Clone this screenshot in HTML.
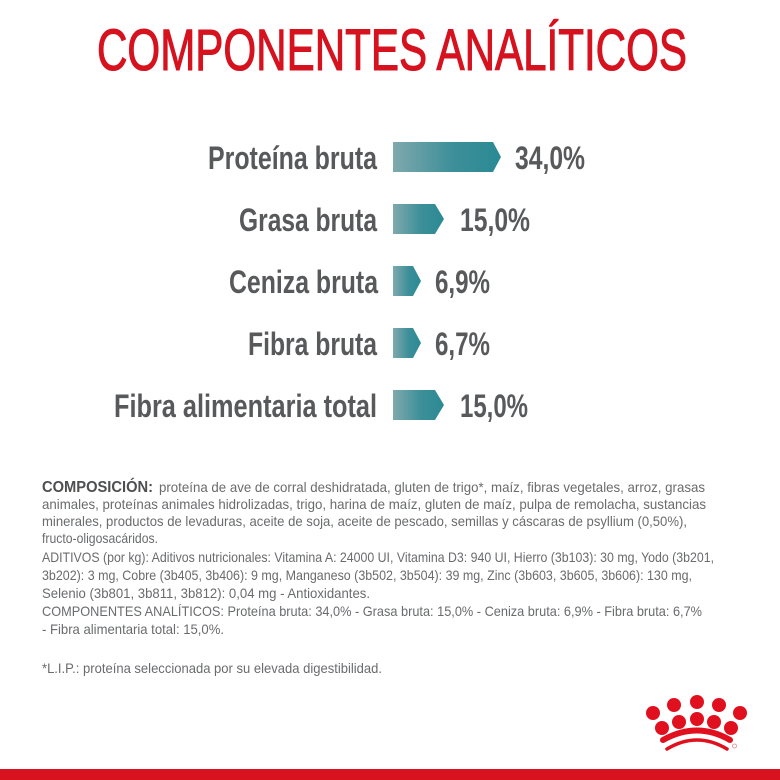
<!DOCTYPE html>
<html><head><meta charset="utf-8"><style>
html,body{margin:0;padding:0;background:#fff;}
svg{display:block;}
.t{font-family:"Liberation Sans",sans-serif;}
</style></head><body>
<svg width="780" height="780" viewBox="0 0 780 780" xmlns="http://www.w3.org/2000/svg">
<defs>
<linearGradient id="g" x1="0" y1="0" x2="1" y2="0">
<stop offset="0" stop-color="#7fa9ad"/>
<stop offset="0.55" stop-color="#3d8f99"/>
<stop offset="1" stop-color="#2a8a95"/>
</linearGradient>
</defs>
<rect width="780" height="780" fill="#fff"/>
<text class="t" x="97" y="70" font-size="58" fill="#d6121f" stroke="#d6121f" stroke-width="1.1" textLength="590" lengthAdjust="spacingAndGlyphs">COMPONENTES ANALÍTICOS</text>

<g class="t" font-size="32" font-weight="bold" fill="#58595b">
<text x="208" y="169" textLength="169" lengthAdjust="spacingAndGlyphs">Proteína bruta</text>
<text x="515" y="169" textLength="70" lengthAdjust="spacingAndGlyphs">34,0%</text>
<text x="239" y="231" textLength="138" lengthAdjust="spacingAndGlyphs">Grasa bruta</text>
<text x="460" y="231" textLength="70" lengthAdjust="spacingAndGlyphs">15,0%</text>
<text x="229" y="293" textLength="149" lengthAdjust="spacingAndGlyphs">Ceniza bruta</text>
<text x="435" y="293" textLength="55" lengthAdjust="spacingAndGlyphs">6,9%</text>
<text x="248" y="355" textLength="129" lengthAdjust="spacingAndGlyphs">Fibra bruta</text>
<text x="435" y="355" textLength="55" lengthAdjust="spacingAndGlyphs">6,7%</text>
<text x="114" y="417" textLength="263" lengthAdjust="spacingAndGlyphs">Fibra alimentaria total</text>
<text x="460" y="417" textLength="68" lengthAdjust="spacingAndGlyphs">15,0%</text>
</g>

<g fill="url(#g)">
<polygon points="393,142 493,142 501,157 493,172 393,172"/>
<polygon points="393,204 435,204 444,219 435,234 393,234"/>
<polygon points="393,266 413,266 421,281 413,296 393,296"/>
<polygon points="393,328 413,328 421,343 413,358 393,358"/>
<polygon points="393,390 435,390 444,405 435,420 393,420"/>
</g>

<g class="t" font-size="14" fill="#6a6b6d">
<text x="42" y="492" font-size="16" font-weight="bold" fill="#4e4f51" textLength="111" lengthAdjust="spacingAndGlyphs">COMPOSICIÓN:</text>
<text x="159" y="492" textLength="546" lengthAdjust="spacingAndGlyphs">proteína de ave de corral deshidratada, gluten de trigo*, maíz, fibras vegetales, arroz, grasas</text>
<text x="42" y="509" textLength="664" lengthAdjust="spacingAndGlyphs">animales, proteínas animales hidrolizadas, trigo, harina de maíz, gluten de maíz, pulpa de remolacha, sustancias</text>
<text x="42" y="526" textLength="645" lengthAdjust="spacingAndGlyphs">minerales, productos de levaduras, aceite de soja, aceite de pescado, semillas y cáscaras de psyllium (0,50%),</text>
<text x="42" y="543" textLength="116" lengthAdjust="spacingAndGlyphs">fructo-oligosacáridos.</text>
<text x="42" y="562" textLength="672" lengthAdjust="spacingAndGlyphs">ADITIVOS (por kg): Aditivos nutricionales: Vitamina A: 24000 UI, Vitamina D3: 940 UI, Hierro (3b103): 30 mg, Yodo (3b201,</text>
<text x="42" y="580" textLength="650" lengthAdjust="spacingAndGlyphs">3b202): 3 mg, Cobre (3b405, 3b406): 9 mg, Manganeso (3b502, 3b504): 39 mg, Zinc (3b603, 3b605, 3b606): 130 mg,</text>
<text x="42" y="598" textLength="328" lengthAdjust="spacingAndGlyphs">Selenio (3b801, 3b811, 3b812): 0,04 mg - Antioxidantes.</text>
<text x="42" y="616" textLength="660" lengthAdjust="spacingAndGlyphs">COMPONENTES ANALÍTICOS: Proteína bruta: 34,0% - Grasa bruta: 15,0% - Ceniza bruta: 6,9% - Fibra bruta: 6,7%</text>
<text x="42" y="634" textLength="182" lengthAdjust="spacingAndGlyphs">- Fibra alimentaria total: 15,0%.</text>
<text x="42" y="673" textLength="340" lengthAdjust="spacingAndGlyphs">*L.I.P.: proteína seleccionada por su elevada digestibilidad.</text>
</g>

<g fill="#e0101e">
<circle cx="653" cy="713" r="7"/>
<circle cx="674" cy="705" r="7"/>
<circle cx="697" cy="702" r="7"/>
<circle cx="719" cy="705" r="7"/>
<circle cx="740" cy="713" r="7"/>
<circle cx="662" cy="728" r="7"/>
<circle cx="679" cy="722" r="7"/>
<circle cx="697" cy="719" r="7"/>
<circle cx="714" cy="722" r="7"/>
<circle cx="731" cy="728" r="7"/>
</g>
<path d="M663,740 Q697,721 730,740" stroke="#e0101e" stroke-width="6" fill="none" stroke-linecap="round"/>
<path d="M667,749 Q697,731 727,749" stroke="#e0101e" stroke-width="3.5" fill="none" stroke-linecap="round"/>
<circle cx="734.5" cy="746" r="2" fill="none" stroke="#e58088" stroke-width="0.8"/>

<rect x="0" y="769" width="780" height="11" fill="#d9121f"/>
</svg>
</body></html>
